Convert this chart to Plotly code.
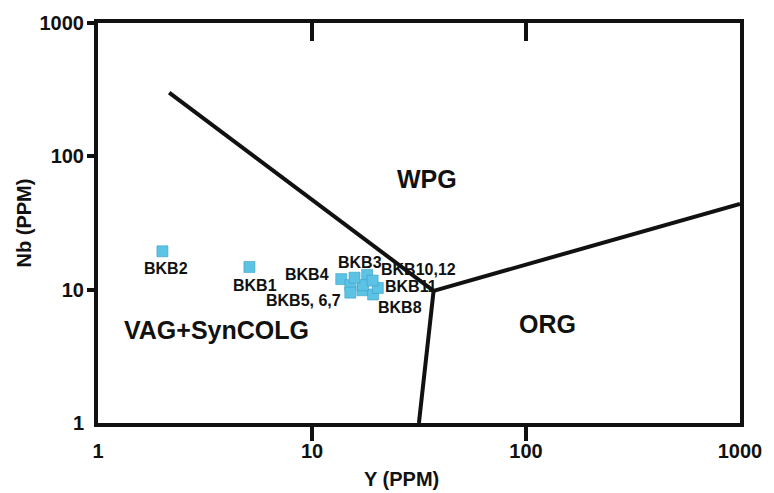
import numpy as np
import plotly.graph_objects as go

# Sample analyses (ppm)
samples = ["BKB1", "BKB2", "BKB3", "BKB4", "BKB5", "BKB6", "BKB7",
           "BKB8", "BKB9", "BKB10", "BKB11", "BKB12"]
y_ppm = [5.1, 2.0, 18.1, 13.7, 15.1, 15.1, 17.2, 19.3, 17.3, 15.8, 20.3, 19.2]
nb_ppm = [14.8, 19.4, 12.9, 12.0, 10.8, 9.5, 9.9, 9.2, 10.8, 12.3, 10.3, 11.7]

# Discrimination boundaries (Y, Nb)
wpg_vag_y = [2.15, 37.0]
wpg_vag_nb = [300, 9.8]
wpg_org_y = [37.0, 1000]
wpg_org_nb = [9.8, 44]
vag_org_y = [37.0, 31.6]
vag_org_nb = [9.8, 1.0]

# Sample labels and where they sit (Y, Nb)
point_labels = ["BKB2", "BKB1", "BKB4", "BKB5, 6,7", "BKB3", "BKB10,12", "BKB11", "BKB8"]
point_label_y = [2.07, 5.43, 9.48, 9.14, 16.8, 31.3, 28.9, 25.7]
point_label_nb = [14.4, 10.7, 13.1, 8.24, 16.1, 14.2, 10.5, 7.36]

# Field names
fields = ["WPG", "ORG", "VAG+SynCOLG"]
field_y = [34.6, 126, 3.57]
field_nb = [67.9, 5.56, 5.01]

tick_vals = [1, 10, 100, 1000]
tick_text = ["1", "10", "100", "1000"]

FONT = "Liberation Sans, Arial, sans-serif"
INK = "#111111"

fig = go.Figure()

for bx, by in [(wpg_vag_y, wpg_vag_nb), (wpg_org_y, wpg_org_nb), (vag_org_y, vag_org_nb)]:
    fig.add_trace(go.Scatter(x=bx, y=by, mode="lines",
                             line=dict(color=INK, width=4),
                             hoverinfo="skip", showlegend=False))

fig.add_trace(go.Scatter(
    x=y_ppm, y=nb_ppm, mode="markers", text=samples,
    marker=dict(symbol="square", size=11, color="#5cc3e4",
                line=dict(color="#3a9fc6", width=0.6)),
    showlegend=False, hovertemplate="%{text}<br>Y=%{x}<br>Nb=%{y}<extra></extra>"))

# empty traces so the tick-only overlay axes are drawn
fig.add_trace(go.Scatter(x=[], y=[], xaxis="x2", yaxis="y", showlegend=False))
fig.add_trace(go.Scatter(x=[], y=[], xaxis="x3", yaxis="y", showlegend=False))
fig.add_trace(go.Scatter(x=[], y=[], xaxis="x", yaxis="y2", showlegend=False))

annotations = []
for t, xv, yv in zip(point_labels, point_label_y, point_label_nb):
    annotations.append(dict(x=np.log10(xv), y=np.log10(yv), xref="x", yref="y",
                            text=t, showarrow=False,
                            font=dict(family=FONT, size=16, color=INK, weight="bold")))
for t, xv, yv in zip(fields, field_y, field_nb):
    annotations.append(dict(x=np.log10(xv), y=np.log10(yv), xref="x", yref="y",
                            text=t, showarrow=False,
                            font=dict(family=FONT, size=25, color=INK, weight="bold")))
annotations.append(dict(x=0.473, y=-0.141, xref="paper", yref="paper",
                        xanchor="center", yanchor="middle",
                        text="Y (PPM)", showarrow=False,
                        font=dict(family=FONT, size=20, color=INK, weight="bold")))

tickfont = dict(family=FONT, size=20, color=INK, weight="bold")
common = dict(type="log", range=[0, 3], showgrid=False, zeroline=False)

fig.update_layout(
    width=774, height=493,
    margin=dict(l=98, r=21, t=20, b=70),
    paper_bgcolor="white", plot_bgcolor="white",
    xaxis=dict(**common, tickvals=tick_vals, ticktext=tick_text, ticks="",
               ticklabelstandoff=7, tickfont=tickfont, ticklabeloverflow="allow",
               showline=True, linewidth=4, linecolor=INK, mirror=True),
    xaxis2=dict(**common, overlaying="x", side="top", anchor="y",
                tickvals=[10, 100], ticks="inside", ticklen=18, tickwidth=4,
                tickcolor=INK, showticklabels=False, showline=False),
    xaxis3=dict(**common, overlaying="x", side="bottom", anchor="y",
                tickvals=[10, 100], ticks="outside", ticklen=17, tickwidth=4,
                tickcolor=INK, showticklabels=False, showline=False),
    yaxis=dict(**common, tickvals=tick_vals, ticktext=tick_text, ticks="",
               ticklabelstandoff=6, tickfont=tickfont,
               showline=True, linewidth=4, linecolor=INK, mirror=True,
               title=dict(text="Nb (PPM)", standoff=4,
                          font=dict(family=FONT, size=20, color=INK, weight="bold"))),
    yaxis2=dict(**common, overlaying="y", side="left", anchor="x",
                tickvals=[10, 100, 1000], ticks="outside", ticklen=10, tickwidth=4,
                tickcolor=INK, showticklabels=False, showline=False),
    annotations=annotations,
)

fig.write_html("out.html")
